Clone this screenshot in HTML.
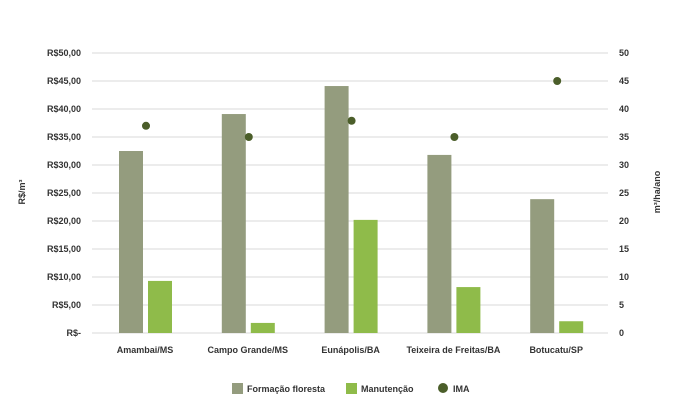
<!DOCTYPE html>
<html><head><meta charset="utf-8"><style>
body{margin:0;background:#fff;font-family:"Liberation Sans",sans-serif;}
svg text{font-family:"Liberation Sans",sans-serif;font-weight:bold;fill:#333;font-size:9px}
</style></head><body>
<svg id="c" width="686" height="404"></svg>
<script>
const categories=["Amambai/MS","Campo Grande/MS","Eunápolis/BA","Teixeira de Freitas/BA","Botucatu/SP"];
const formacao=[32.5,39.1,44.1,31.8,23.9];
const manutencao=[9.3,1.8,20.2,8.2,2.1];
const ima=[37,35,37.9,35,45];
const leftTicks=["R$-","R$5,00","R$10,00","R$15,00","R$20,00","R$25,00","R$30,00","R$35,00","R$40,00","R$45,00","R$50,00"];
const rightTicks=["0","5","10","15","20","25","30","35","40","45","50"];
const svg=document.getElementById('c');const NS="http://www.w3.org/2000/svg";
function el(t,a,txt){const e=document.createElementNS(NS,t);for(const k in a)e.setAttribute(k,a[k]);if(txt!=null)e.textContent=txt;svg.appendChild(e);return e;}
const x0=92,x1=608,yb=333,yt=53;
const y=v=>yb-(v/50)*(yb-yt);
const cx=i=>145+i*102.8;
leftTicks.forEach((t,i)=>{const v=i*5;
 if(i>0){const g=el('line',{x1:x0,x2:x1,y1:y(v),y2:y(v),stroke:'#d9d9d9','stroke-width':1});
 }
 const l=el('text',{x:81,y:y(v)+3,'text-anchor':'end'},t);
 
 const r=el('text',{x:619,y:y(v)+3,'text-anchor':'start'},rightTicks[i]);
 
});
const ax=el('line',{x1:x0,x2:x1,y1:yb,y2:yb,stroke:'#d9d9d9','stroke-width':1});

categories.forEach((c,i)=>{
 const b1=el('rect',{x:cx(i)-26,y:y(formacao[i]),width:24,height:yb-y(formacao[i]),fill:'#949c7e'});
 
 const b2=el('rect',{x:cx(i)+3,y:y(manutencao[i]),width:24,height:yb-y(manutencao[i]),fill:'#8fbb4a'});
 
 const d=el('circle',{cx:cx(i)+1,cy:y(ima[i]),r:4,fill:'#4b5e2a'});
 
 const t=el('text',{x:cx(i),y:353,'text-anchor':'middle'},c);
 
});
const yl=el('text',{x:0,y:0,'text-anchor':'middle',transform:'translate(25,192) rotate(-90)'},'R$/m³');

const yr=el('text',{x:0,y:0,'text-anchor':'middle',transform:'translate(660,192) rotate(-90)'},'m³/ha/ano');

const l1=el('rect',{x:232,y:383,width:11,height:11,fill:'#949c7e'});
const t1=el('text',{x:247,y:392},'Formação floresta');
const l2=el('rect',{x:346,y:383,width:11,height:11,fill:'#8fbb4a'});
const t2=el('text',{x:361,y:392},'Manutenção');
const l3=el('circle',{cx:443,cy:388,r:5,fill:'#4b5e2a'});
const t3=el('text',{x:453,y:392},'IMA');
</script>
</body></html>
